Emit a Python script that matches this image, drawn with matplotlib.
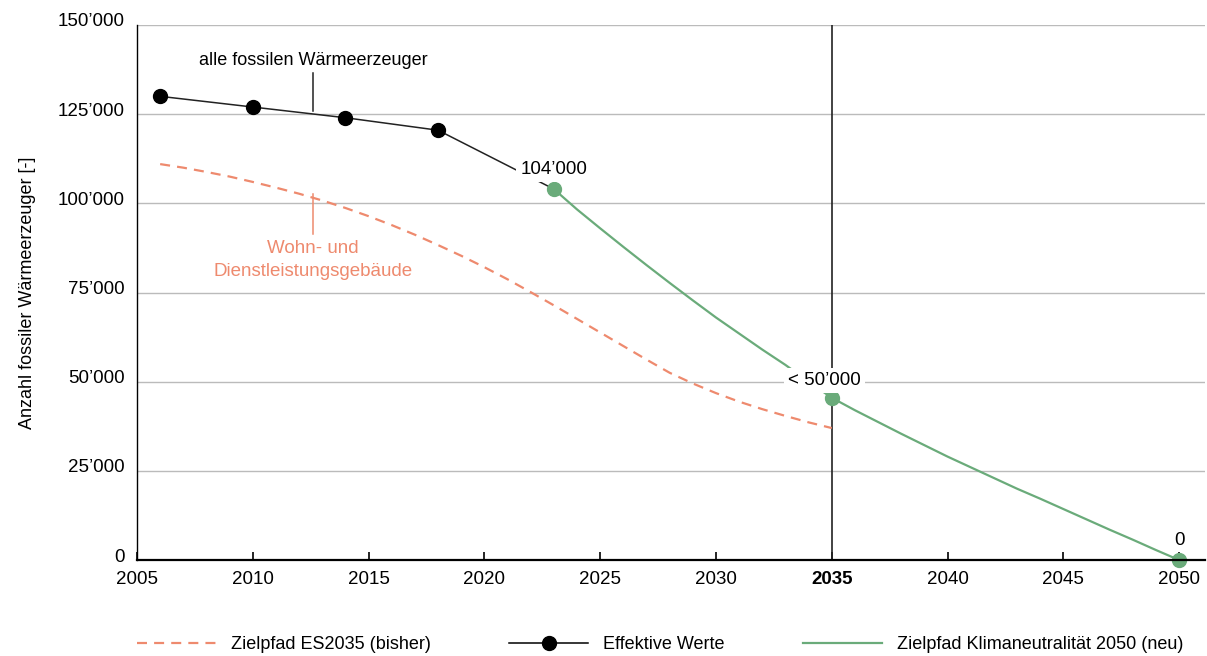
import matplotlib.pyplot as plt
import matplotlib.transforms as mtransforms
import numpy as np

plt.rcParams['font.family'] = ['Liberation Sans', 'DejaVu Sans']

# data
eff_years = [2006, 2010, 2014, 2018, 2023]
eff_values = [130000, 127000, 124000, 120500, 104000]

es2035_years = list(range(2006, 2036))
es2035_values = [111000, 110000, 108800, 107500, 106000, 104400, 102700, 100800,
                 98700, 96400, 93900, 91200, 88300, 85300, 82100, 78700, 75100,
                 71400, 67600, 63800, 60000, 56200, 52500, 49500, 46800, 44400,
                 42300, 40400, 38600, 37000]

klima_years = list(range(2023, 2051))
klima_values = [104000, 98300, 93000, 87800, 82700, 77700, 72800, 68000, 63500,
                59000, 54700, 50000, 45500, 42000, 38700, 35400, 32200, 29000,
                26000, 23000, 20000, 17200, 14300, 11400, 8500, 5700, 2800, 0]
klima_pts_years = [2023, 2035, 2050]
klima_pts_values = [104000, 45500, 0]

yticks = [0, 25000, 50000, 75000, 100000, 125000, 150000]
ylabels = ["0", "25\u2019000", "50\u2019000", "75\u2019000", "100\u2019000", "125\u2019000", "150\u2019000"]
xticks = [2005, 2010, 2015, 2020, 2025, 2030, 2035, 2040, 2045, 2050]

orange = '#EE8A6E'
green = '#6AAB7A'
fs = 13
dash = (4.5, 3.2)

fig = plt.figure(figsize=(12.07, 6.56), dpi=100)
ax = fig.add_axes([0.1135, 0.1463, 0.8845, 0.8156])

ax.set_xlim(2005, 2051.1)
ax.set_ylim(0, 150000)

# grid
for v in yticks[1:]:
    ax.axhline(v, color='#bbbbbb', lw=1, zorder=1)
ax.axvline(2035, color='#222222', lw=1.2, zorder=2)

# lines
ax.plot(es2035_years, es2035_values, color=orange, lw=1.6, dashes=dash, zorder=3)
ax.plot(eff_years, eff_values, color='#222222', lw=1.1, zorder=4)
ax.plot(eff_years[:-1], eff_values[:-1], 'o', color='black', ms=10, zorder=5)
ax.plot(klima_years, klima_values, color=green, lw=1.6, zorder=4)
ax.plot(klima_pts_years, klima_pts_values, 'o', color=green, ms=10, zorder=6, clip_on=False)

# labels on points
box = dict(facecolor='white', edgecolor='none', pad=3)
ax.text(2023, 109500, "104\u2019000", ha='center', va='center', fontsize=fs + 0.5, bbox=box, zorder=7)
ax.text(2034.7, 50400, "< 50\u2019000", ha='center', va='center', fontsize=fs + 0.5, bbox=box, zorder=7)
ax.text(2050, 5500, "0", ha='center', va='center', fontsize=fs + 0.5, zorder=7)

# annotations
ax.text(2012.6, 140000, "alle fossilen W\u00e4rmeerzeuger", ha='center', va='center', fontsize=fs)
ax.plot([2012.6, 2012.6], [136500, 125800], color='#222222', lw=1.1)
ax.text(2012.6, 84100, "Wohn- und\nDienstleistungsgeb\u00e4ude", ha='center', va='center',
        fontsize=fs + 0.5, color=orange, linespacing=1.45)
ax.plot([2012.6, 2012.6], [102500, 91500], color=orange, lw=1.1)

# axes styling
for s in ['top', 'right']:
    ax.spines[s].set_visible(False)
ax.spines['left'].set_linewidth(1.0)
ax.spines['bottom'].set_linewidth(1.6)
ax.spines['bottom'].set_zorder(8)

ax.set_yticks(yticks)
ax.set_yticklabels(ylabels, fontsize=fs + 0.5)
ax.tick_params(axis='y', length=0, pad=9)
offset = mtransforms.ScaledTranslation(0, 5 / 100, fig.dpi_scale_trans)
for lab in ax.get_yticklabels():
    lab.set_transform(lab.get_transform() + offset)

ax.set_xticks(xticks)
ax.set_xticklabels([str(x) for x in xticks], fontsize=fs + 0.5)
ax.tick_params(axis='x', direction='in', length=6, width=1.2, pad=8)
for lab in ax.get_xticklabels():
    if lab.get_text() == '2035':
        lab.set_fontweight('bold')

ax.set_ylabel("Anzahl fossiler W\u00e4rmeerzeuger [-]", fontsize=fs)
ax.yaxis.set_label_coords(-0.095, 0.5)

# legend
h1, = ax.plot([], [], color=orange, lw=1.6, dashes=dash)
h2, = ax.plot([], [], color='black', lw=1.1, marker='o', ms=10)
h3, = ax.plot([], [], color=green, lw=1.6)
fig.legend([h1, h2, h3], ['Zielpfad ES2035 (bisher)', 'Effektive Werte', 'Zielpfad Klimaneutralit\u00e4t 2050 (neu)'],
           loc='center left', bbox_to_anchor=(0.1135, 0.0168), ncol=3, frameon=False, fontsize=fs,
           handlelength=4.4, handletextpad=0.83, columnspacing=4.3, borderpad=0, borderaxespad=0)

fig.savefig('out.png', dpi=100)
